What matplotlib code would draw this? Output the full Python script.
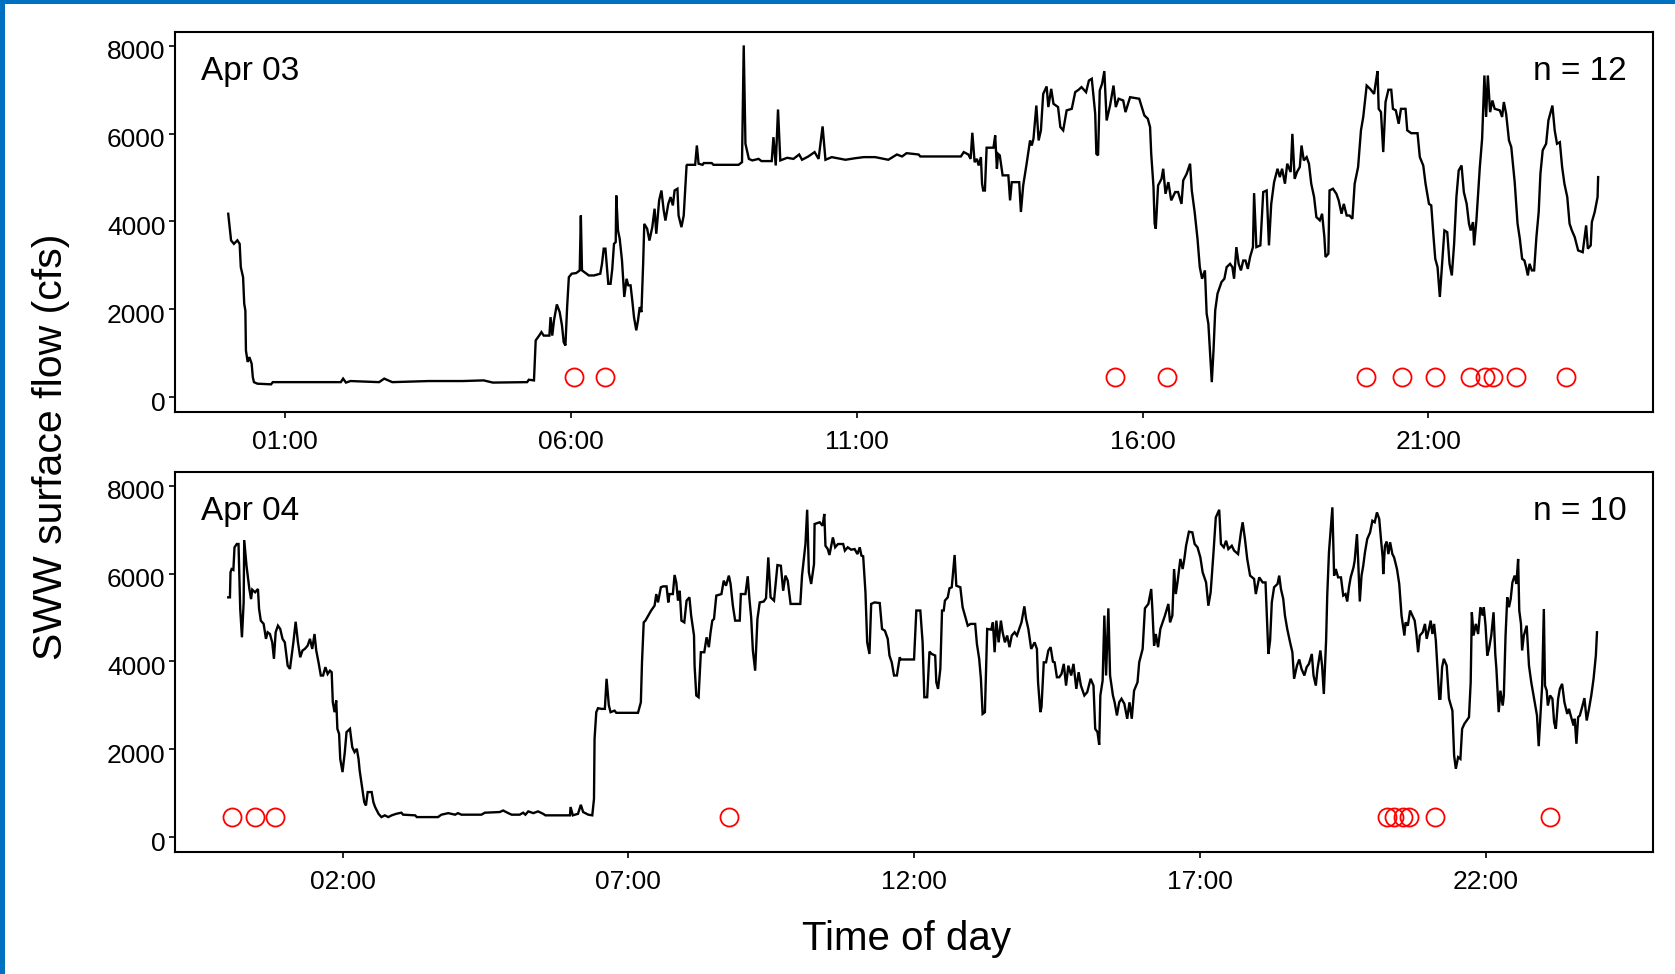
import matplotlib

matplotlib.use("Agg")
import matplotlib.pyplot as plt
from matplotlib.patches import Rectangle
from matplotlib.ticker import FixedLocator, FuncFormatter
from matplotlib.transforms import ScaledTranslation

plt.rcParams["font.family"] = ["Liberation Sans", "DejaVu Sans"]

# SWW surface flow (cfs) against hour of day
apr03_hours = [
    0.00, 0.05, 0.10, 0.16, 0.20, 0.22, 0.26, 0.28, 0.30, 0.31, 0.34, 0.37, 0.41, 0.43, 0.45,
    0.51, 0.75, 0.78, 1.97, 2.01, 2.06, 2.14, 2.64, 2.73, 2.87, 3.51, 4.10, 4.47, 4.63, 5.23,
    5.26, 5.35, 5.38, 5.44, 5.48, 5.52, 5.62, 5.64, 5.67, 5.70, 5.75, 5.80, 5.84, 5.87, 5.90,
    5.93, 5.96, 6.01, 6.09, 6.15, 6.17, 6.19, 6.31, 6.40, 6.51, 6.54, 6.57, 6.60, 6.65, 6.69,
    6.72, 6.75, 6.78, 6.79, 6.82, 6.85, 6.89, 6.93, 6.97, 7.00, 7.04, 7.07, 7.10, 7.14, 7.17,
    7.20, 7.23, 7.26, 7.28, 7.33, 7.37, 7.42, 7.46, 7.49, 7.54, 7.58, 7.62, 7.65, 7.70, 7.74,
    7.78, 7.81, 7.86, 7.88, 7.93, 7.97, 8.02, 8.03, 8.17, 8.20, 8.23, 8.30, 8.32, 8.46, 8.49,
    8.93, 8.99, 9.02, 9.05, 9.11, 9.17, 9.28, 9.33, 9.51, 9.54, 9.58, 9.62, 9.66, 9.78, 9.89,
    9.99, 10.04, 10.15, 10.26, 10.33, 10.40, 10.45, 10.56, 10.80, 10.97, 11.12, 11.32, 11.55, 11.70, 11.79,
    11.87, 12.08, 12.11, 12.82, 12.87, 12.95, 12.99, 13.02, 13.06, 13.10, 13.13, 13.17, 13.19, 13.21, 13.24,
    13.27, 13.39, 13.42, 13.45, 13.47, 13.50, 13.55, 13.65, 13.68, 13.71, 13.84, 13.87, 13.91, 13.97, 14.03,
    14.06, 14.09, 14.14, 14.18, 14.22, 14.26, 14.32, 14.35, 14.40, 14.44, 14.52, 14.56, 14.61, 14.67, 14.76,
    14.82, 14.88, 14.93, 15.01, 15.06, 15.11, 15.17, 15.19, 15.22, 15.25, 15.29, 15.33, 15.37, 15.43, 15.49,
    15.53, 15.58, 15.66, 15.70, 15.78, 15.94, 16.03, 16.09, 16.13, 16.15, 16.19, 16.21, 16.23, 16.27, 16.33,
    16.36, 16.40, 16.45, 16.50, 16.57, 16.62, 16.68, 16.71, 16.77, 16.83, 16.86, 16.91, 16.96, 17.00, 17.04,
    17.09, 17.12, 17.15, 17.18, 17.21, 17.24, 17.27, 17.31, 17.35, 17.38, 17.43, 17.47, 17.53, 17.57, 17.60,
    17.64, 17.68, 17.72, 17.76, 17.80, 17.84, 17.88, 17.93, 17.95, 17.99, 18.06, 18.11, 18.17, 18.21, 18.25,
    18.30, 18.36, 18.40, 18.44, 18.49, 18.53, 18.59, 18.62, 18.66, 18.70, 18.75, 18.78, 18.82, 18.87, 18.91,
    18.95, 19.00, 19.04, 19.10, 19.14, 19.18, 19.20, 19.25, 19.27, 19.33, 19.39, 19.43, 19.48, 19.52, 19.57,
    19.62, 19.67, 19.71, 19.77, 19.82, 19.86, 19.92, 19.98, 20.05, 20.08, 20.11, 20.13, 20.17, 20.21, 20.25,
    20.30, 20.35, 20.38, 20.43, 20.48, 20.52, 20.60, 20.63, 20.70, 20.81, 20.85, 20.91, 20.95, 21.01, 21.05,
    21.09, 21.12, 21.16, 21.20, 21.24, 21.28, 21.33, 21.37, 21.41, 21.45, 21.49, 21.53, 21.58, 21.62, 21.67,
    21.71, 21.74, 21.78, 21.80, 21.84, 21.90, 21.94, 21.98, 22.01, 22.04, 22.08, 22.12, 22.16, 22.25, 22.29,
    22.32, 22.36, 22.41, 22.45, 22.51, 22.56, 22.60, 22.64, 22.68, 22.71, 22.74, 22.77, 22.81, 22.85, 22.89,
    22.93, 22.96, 23.00, 23.06, 23.10, 23.17, 23.21, 23.25, 23.30, 23.34, 23.38, 23.43, 23.47, 23.51, 23.56,
    23.62, 23.70, 23.76, 23.79, 23.84, 23.86, 23.91, 23.96, 23.97,
]
apr03_flow = [
    4175, 3567, 3490, 3570, 3490, 2960, 2730, 2125, 1970, 1060, 800, 910, 760, 455, 340,
    305, 290, 340, 340, 420, 330, 365, 340, 420, 340, 365, 365, 380, 330, 340,
    395, 380, 1290, 1400, 1480, 1400, 1400, 1820, 1400, 1745, 2110, 1935, 1630, 1250, 1175,
    2050, 2730, 2810, 2825, 2885, 4135, 2885, 2770, 2770, 2810, 3035, 3380, 3380, 2580, 2580,
    2920, 3490, 3530, 4590, 3795, 3605, 3110, 2280, 2695, 2545, 2545, 2200, 1820, 1520, 1745,
    2050, 1935, 3035, 3945, 3835, 3565, 3870, 4290, 3720, 4480, 4705, 4250, 4020, 4400, 4555,
    4365, 4705, 4745, 4135, 3870, 4135, 5275, 5290, 5290, 5730, 5315, 5290, 5330, 5330, 5290,
    5290, 5350, 8010, 5770, 5425, 5390, 5425, 5375, 5375, 5920, 5275, 6550, 5390, 5450, 5425,
    5525, 5405, 5480, 5580, 5425, 6165, 5405, 5465, 5405, 5440, 5465, 5465, 5405, 5525, 5480,
    5555, 5525, 5480, 5480, 5580, 5525, 5425, 6020, 5350, 5425, 5275, 5465, 4860, 4705, 4705,
    5680, 5680, 5960, 5200, 5540, 5505, 5050, 5050, 4480, 4895, 4895, 4215, 4820, 5315, 5845,
    5730, 5885, 6640, 5845, 6075, 6905, 7075, 6605, 7020, 6680, 6605, 6150, 6075, 6530, 6565,
    6945, 7000, 7060, 6945, 7210, 7250, 6455, 5540, 5505, 6985, 7135, 7425, 6300, 6640, 7095,
    6605, 6795, 6755, 6490, 6830, 6795, 6415, 6340, 6150, 5540, 4785, 3950, 3835, 4820, 4970,
    5200, 4630, 4895, 4480, 4670, 4670, 4400, 4935, 5085, 5315, 4705, 4215, 3605, 2960, 2695,
    2885, 1900, 1670, 985, 340, 1060, 1975, 2355, 2505, 2620, 2695, 2960, 3035, 2960, 2695,
    3415, 3035, 2885, 3110, 3110, 2920, 3190, 3415, 4645, 3415, 3455, 4670, 4705, 3455, 4400,
    4895, 5200, 5010, 5200, 4860, 5315, 5125, 5995, 4970, 5125, 5240, 5730, 5390, 5465, 5315,
    4860, 4555, 4100, 4025, 4175, 3645, 3190, 3265, 4705, 4745, 4630, 4480, 4175, 4400, 4135,
    4135, 4060, 4860, 5240, 6075, 6380, 7095, 7020, 6905, 7175, 7425, 6565, 6490, 5580, 6720,
    7000, 7000, 6565, 6530, 6225, 6565, 6565, 6075, 6010, 6010, 5465, 5275, 4860, 4400, 4365,
    3645, 3150, 2960, 2280, 3035, 3795, 3755, 3035, 2770, 3490, 4555, 5160, 5275, 4670, 4400,
    3950, 3795, 3985, 3455, 4025, 5240, 5885, 7325, 6380, 7325, 6490, 6755, 6565, 6530, 6380,
    6720, 6455, 5845, 5695, 4895, 3950, 3605, 3150, 3110, 2960, 2770, 3035, 2885, 2885, 3645,
    4215, 5085, 5620, 5770, 6300, 6640, 6075, 5770, 5805, 5240, 4860, 4555, 3950, 3795, 3645,
    3340, 3300, 3910, 3380, 3455, 3985, 4215, 4555, 5010,
]

apr04_hours = [
    0.00, 0.03, 0.04, 0.06, 0.09, 0.11, 0.15, 0.18, 0.21, 0.24, 0.27, 0.28, 0.32, 0.37, 0.40,
    0.42, 0.47, 0.52, 0.54, 0.57, 0.62, 0.66, 0.69, 0.73, 0.77, 0.80, 0.83, 0.87, 0.91, 0.95,
    0.99, 1.04, 1.08, 1.11, 1.14, 1.18, 1.22, 1.26, 1.30, 1.34, 1.39, 1.43, 1.47, 1.51, 1.54,
    1.58, 1.62, 1.66, 1.70, 1.74, 1.78, 1.81, 1.83, 1.86, 1.89, 1.91, 1.94, 1.96, 2.00, 2.04,
    2.07, 2.13, 2.17, 2.21, 2.25, 2.28, 2.30, 2.35, 2.38, 2.41, 2.44, 2.51, 2.54, 2.57, 2.60,
    2.63, 2.68, 2.74, 2.80, 2.86, 2.94, 3.03, 3.06, 3.27, 3.30, 3.67, 3.73, 3.85, 3.97, 4.02,
    4.08, 4.43, 4.49, 4.75, 4.81, 4.90, 4.96, 5.10, 5.16, 5.20, 5.25, 5.34, 5.42, 5.51, 5.55,
    5.98, 5.99, 6.03, 6.12, 6.17, 6.21, 6.30, 6.37, 6.40, 6.41, 6.44, 6.47, 6.53, 6.59, 6.62,
    6.66, 6.69, 6.76, 6.79, 7.17, 7.22, 7.24, 7.27, 7.30, 7.35, 7.40, 7.46, 7.49, 7.52, 7.57,
    7.61, 7.67, 7.70, 7.72, 7.78, 7.81, 7.84, 7.87, 7.90, 7.93, 7.98, 8.02, 8.07, 8.10, 8.15,
    8.16, 8.19, 8.23, 8.27, 8.33, 8.37, 8.41, 8.44, 8.47, 8.50, 8.54, 8.63, 8.67, 8.71, 8.76,
    8.79, 8.83, 8.87, 8.95, 8.97, 9.05, 9.09, 9.12, 9.15, 9.18, 9.22, 9.26, 9.30, 9.37, 9.41,
    9.45, 9.49, 9.55, 9.61, 9.67, 9.71, 9.75, 9.79, 9.84, 10.01, 10.04, 10.10, 10.13, 10.16, 10.20,
    10.25, 10.26, 10.35, 10.40, 10.43, 10.45, 10.49, 10.52, 10.58, 10.62, 10.67, 10.76, 10.79, 10.84, 10.90,
    10.96, 11.01, 11.05, 11.08, 11.11, 11.15, 11.18, 11.22, 11.25, 11.31, 11.40, 11.44, 11.49, 11.54, 11.57,
    11.61, 11.65, 11.70, 11.75, 11.77, 12.00, 12.04, 12.11, 12.15, 12.18, 12.23, 12.27, 12.31, 12.37, 12.39,
    12.42, 12.46, 12.49, 12.52, 12.54, 12.59, 12.62, 12.66, 12.71, 12.74, 12.81, 12.85, 12.89, 12.94, 12.99,
    13.07, 13.10, 13.14, 13.17, 13.20, 13.24, 13.26, 13.28, 13.35, 13.38, 13.41, 13.44, 13.48, 13.52, 13.55,
    13.59, 13.63, 13.67, 13.71, 13.76, 13.80, 13.84, 13.88, 13.93, 13.96, 14.00, 14.05, 14.11, 14.15, 14.17,
    14.21, 14.23, 14.27, 14.31, 14.35, 14.39, 14.43, 14.46, 14.50, 14.54, 14.58, 14.62, 14.66, 14.70, 14.75,
    14.79, 14.84, 14.88, 14.92, 14.98, 15.03, 15.09, 15.14, 15.17, 15.21, 15.24, 15.26, 15.30, 15.33, 15.36,
    15.40, 15.43, 15.48, 15.51, 15.55, 15.59, 15.63, 15.68, 15.73, 15.77, 15.81, 15.85, 15.91, 15.94, 16.00,
    16.04, 16.10, 16.15, 16.17, 16.20, 16.23, 16.27, 16.31, 16.35, 16.39, 16.45, 16.48, 16.52, 16.55, 16.58,
    16.61, 16.66, 16.70, 16.73, 16.76, 16.81, 16.87, 16.91, 16.96, 17.01, 17.05, 17.11, 17.15, 17.19, 17.24,
    17.28, 17.34, 17.37, 17.42, 17.46, 17.50, 17.56, 17.60, 17.67, 17.72, 17.75, 17.79, 17.83, 17.88, 17.95,
    17.98, 18.04, 18.10, 18.15, 18.20, 18.23, 18.26, 18.30, 18.36, 18.39, 18.42, 18.46, 18.49, 18.53, 18.58,
    18.62, 18.65, 18.70, 18.74, 18.78, 18.83, 18.87, 18.91, 18.96, 18.99, 19.03, 19.06, 19.11, 19.14, 19.17,
    19.21, 19.23, 19.26, 19.32, 19.35, 19.38, 19.42, 19.47, 19.51, 19.55, 19.58, 19.61, 19.64, 19.69, 19.71,
    19.75, 19.77, 19.80, 19.83, 19.86, 19.89, 19.93, 19.98, 20.02, 20.06, 20.10, 20.14, 20.17, 20.20, 20.21,
    20.24, 20.27, 20.30, 20.33, 20.37, 20.40, 20.45, 20.49, 20.53, 20.58, 20.60, 20.64, 20.68, 20.72, 20.76,
    20.79, 20.82, 20.85, 20.90, 20.94, 20.97, 21.01, 21.04, 21.07, 21.10, 21.13, 21.16, 21.19, 21.21, 21.24,
    21.27, 21.32, 21.36, 21.42, 21.45, 21.48, 21.52, 21.56, 21.59, 21.63, 21.67, 21.71, 21.74, 21.76, 21.79,
    21.83, 21.87, 21.91, 21.95, 21.97, 22.00, 22.03, 22.06, 22.10, 22.14, 22.17, 22.19, 22.23, 22.26, 22.30,
    22.32, 22.35, 22.38, 22.41, 22.44, 22.47, 22.51, 22.54, 22.57, 22.59, 22.62, 22.64, 22.67, 22.72, 22.76,
    22.80, 22.85, 22.90, 22.93, 22.96, 22.99, 23.02, 23.04, 23.07, 23.09, 23.13, 23.17, 23.20, 23.23, 23.27,
    23.30, 23.34, 23.38, 23.43, 23.46, 23.49, 23.54, 23.56, 23.59, 23.62, 23.65, 23.69, 23.73, 23.77, 23.81,
    23.85, 23.89, 23.93, 23.95,
]
apr04_flow = [
    5460, 5460, 6030, 6105, 6085, 6600, 6675, 6675, 5195, 4550, 5345, 6765, 6180, 5650, 5420,
    5635, 5575, 5650, 5195, 4930, 4855, 4515, 4665, 4625, 4435, 4060, 4665, 4815, 4740, 4515,
    4435, 3905, 3830, 4135, 4435, 4905, 4435, 4095, 4250, 4285, 4360, 4515, 4285, 4625, 4250,
    3980, 3680, 3680, 3870, 3715, 3790, 3755, 3070, 2845, 3110, 2465, 2350, 1780, 1480, 1935,
    2390, 2465, 2050, 1935, 2010, 1780, 1515, 1060, 795, 720, 1025, 1025, 795, 685, 605,
    530, 455, 495, 455, 495, 530, 555, 510, 495, 455, 455, 510, 545, 510, 545,
    510, 510, 555, 570, 605, 545, 510, 510, 555, 510, 585, 545, 585, 530, 495,
    495, 685, 495, 530, 735, 570, 510, 495, 870, 2240, 2845, 2935, 2920, 2920, 3605,
    3000, 2845, 2880, 2830, 2830, 3070, 3980, 4890, 4930, 5045, 5160, 5270, 5535, 5345, 5690,
    5710, 5710, 5345, 5535, 5535, 5970, 5800, 5385, 5610, 4930, 4890, 5385, 5460, 5045, 4590,
    3905, 3225, 3185, 4210, 4210, 4550, 4325, 4665, 4930, 4970, 5500, 5535, 5840, 5725, 5955,
    5765, 5270, 4930, 4930, 5535, 5535, 5940, 5425, 5005, 4250, 3790, 4970, 5345, 5365, 5440,
    6370, 5460, 5385, 6195, 6180, 5610, 5955, 5840, 5310, 5310, 5955, 6675, 7455, 6030, 5765,
    6220, 7130, 7170, 7090, 7360, 6635, 6560, 6425, 6825, 6600, 6675, 6675, 6525, 6600, 6545,
    6560, 6445, 6600, 6410, 6395, 5575, 4435, 4170, 5310, 5345, 5330, 4740, 4700, 4515, 4135,
    3980, 3680, 3680, 4095, 4045, 4045, 5160, 5160, 4435, 3185, 3185, 4225, 4170, 4135, 3525,
    3375, 3830, 5160, 5160, 5385, 5460, 5665, 5690, 6425, 5725, 5690, 5235, 5045, 4815, 4855,
    4855, 4400, 4060, 3605, 2805, 2845, 3830, 4740, 4725, 4890, 4210, 4930, 4435, 4930, 4665,
    4435, 4590, 4325, 4590, 4665, 4590, 4740, 4890, 5255, 4970, 4740, 4285, 4435, 4285, 3525,
    2845, 2960, 3980, 3980, 4250, 4325, 3995, 3980, 3640, 3640, 3715, 3945, 3450, 3905, 3680,
    3945, 3375, 3755, 3450, 3225, 3300, 3605, 3450, 2465, 2390, 2100, 3225, 3565, 5045, 3680,
    5210, 3680, 3225, 3070, 2770, 3070, 3150, 3035, 2695, 3070, 2695, 3335, 3525, 3980, 4285,
    5210, 5310, 5650, 5195, 4360, 4625, 4325, 4740, 4890, 5045, 5310, 4890, 5045, 6105, 5535,
    5800, 6335, 6105, 6335, 6635, 6955, 6940, 6675, 6600, 6370, 6030, 5800, 5270, 5575, 6485,
    7280, 7455, 6675, 6600, 6750, 6560, 6635, 6525, 6445, 6940, 7170, 6790, 6335, 5955, 5880,
    5535, 5915, 5800, 5800, 4170, 4475, 5345, 5690, 5765, 5955, 5650, 5425, 5045, 4740, 4435,
    4210, 3605, 3905, 4045, 3830, 3680, 3870, 3945, 4170, 3680, 3450, 3830, 4250, 3905, 3260,
    4475, 5500, 6485, 7510, 5955, 6105, 5915, 5915, 5500, 5535, 5365, 5690, 5915, 6145, 6295,
    6900, 6335, 5365, 5955, 6180, 6485, 6790, 6940, 7205, 7170, 7395, 7245, 6790, 6370, 5990,
    6635, 6730, 6445, 6715, 6445, 6370, 6105, 5765, 5045, 4590, 4890, 4815, 5160, 5045, 4930,
    4625, 4210, 4590, 4665, 4855, 4515, 4740, 4930, 4625, 4855, 4475, 3830, 3150, 3150, 3870,
    4060, 3905, 3150, 2880, 1860, 1555, 1820, 1780, 2465, 2580, 2655, 2730, 3525, 5120, 4590,
    4855, 4625, 5235, 5045, 5235, 4815, 4135, 4285, 4590, 5120, 4170, 3830, 2845, 3335, 2995,
    3225, 4590, 5460, 5235, 5425, 5800, 5955, 5765, 6335, 5160, 4855, 4250, 4590, 4815, 3905,
    3525, 3150, 2770, 2070, 2770, 3450, 5195, 3450, 3335, 2995, 3225, 3150, 2615, 2465, 3150,
    3375, 3490, 3070, 2805, 2920, 2770, 2540, 2695, 2125, 2730, 2770, 2960, 3165, 2655, 2920,
    3225, 3605, 4135, 4665,
]

# observation times (hour of day), drawn along a fixed flow level
apr03_obs = [6.05, 6.60, 15.52, 16.42, 19.90, 20.53, 21.12, 21.72, 21.99, 22.13, 22.54, 23.40]
apr04_obs = [0.06, 0.47, 0.81, 8.76, 20.28, 20.40, 20.55, 20.66, 21.11, 23.13]
obs_level = 460

apr03_ticks = [1, 6, 11, 16, 21]
apr04_ticks = [2, 7, 12, 17, 22]
flow_ticks = [0, 2000, 4000, 6000, 8000]

W, H = 1675, 974
fig = plt.figure(figsize=(W / 100, H / 100), dpi=100)

panels = [
    ("Apr 03", apr03_hours, apr03_flow, apr03_obs, apr03_ticks, 32),
    ("Apr 04", apr04_hours, apr04_flow, apr04_obs, apr04_ticks, 472),
]
ax_left, ax_right, ax_h = 174.5, 1653, 380
# R-style y labels sit a touch below their tick marks
ylab_shift = ScaledTranslation(0, -4 / 100, fig.dpi_scale_trans)

for label, hrs, flow, obs, ticks, top_px in panels:
    ax = fig.add_axes([ax_left / W, 1 - (top_px + ax_h) / H, (ax_right - ax_left) / W, ax_h / H])
    ax.plot(hrs, flow, color="black", lw=1.7, solid_joinstyle="miter")
    ax.plot(obs, [obs_level] * len(obs), ls="none", marker="o", ms=13, mfc="none",
            mec="#ff0000", mew=1.3)
    n = len(obs)

    ax.set_xlim(-0.94, 24.93)
    ax.set_ylim(-340, 8315)
    ax.xaxis.set_major_locator(FixedLocator(ticks))
    ax.xaxis.set_major_formatter(FuncFormatter(lambda v, p: f"{int(round(v)):02d}:00"))
    ax.yaxis.set_major_locator(FixedLocator(flow_ticks))
    ax.tick_params(direction="out", length=4, width=1.2, labelsize=19)
    ax.tick_params(axis="x", pad=9)
    ax.tick_params(axis="y", pad=2.5)
    for t in ax.get_yticklabels():
        t.set_transform(t.get_transform() + ylab_shift)
    for sp in ax.spines.values():
        sp.set_linewidth(1.5)

    ax.text(0.018, 0.874, label, transform=ax.transAxes, fontsize=24, va="baseline", ha="left")
    ax.text(0.982, 0.874, f"n = {n}", transform=ax.transAxes, fontsize=24, va="baseline", ha="right")

fig.text(907 / W, 1 - 950 / H, "Time of day", fontsize=29, ha="center", va="baseline")
fig.text(51 / W, 1 - 447 / H, "SWW surface flow (cfs)", fontsize=29.5, rotation=90,
         ha="center", va="center")

# blue frame along the top and left edges
fig.add_artist(Rectangle((0, 1 - 4 / H), 1, 4 / H, transform=fig.transFigure,
                         color="#0070c0", lw=0))
fig.add_artist(Rectangle((0, 0), 5 / W, 1, transform=fig.transFigure, color="#0070c0", lw=0))

fig.savefig("out.png", dpi=100)
